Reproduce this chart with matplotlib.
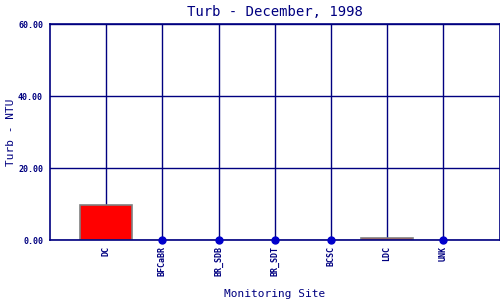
import numpy as np
import matplotlib
matplotlib.use('Agg')
import matplotlib.pyplot as plt

NAVY = '#000080'

sites = ['DC', 'BFCaBR', 'BR_SDB', 'BR_SDT', 'BCSC', 'LDC', 'UNK']
turb = [9.6, 0.0, 0.0, 0.0, 0.0, 0.5, 0.0]
has_bar = [True, False, False, False, False, True, False]
yticks = [0, 20, 40, 60]

plt.rcParams['font.family'] = 'DejaVu Sans Mono'

fig = plt.figure(figsize=(5, 3), dpi=100)
ax = fig.add_axes([0.1, 0.2, 0.899, 0.72])

x = np.arange(1, len(sites) + 1)

# gridlines behind the bars
for v in yticks:
    ax.axhline(v, color=NAVY, lw=1.0, zorder=1)
for xi in x:
    ax.axvline(xi, color=NAVY, lw=1.0, zorder=1)

for xi, val, b in zip(x, turb, has_bar):
    if b:
        ax.bar(xi, val, width=0.93, color='red', edgecolor='gray', lw=1.2, zorder=2)
    else:
        ax.plot(xi, val, 'o', color='#0000cc', ms=5, zorder=3, clip_on=False)

ax.set_xlim(0, len(sites) + 1)
ax.set_ylim(0, 60)
ax.set_xticks(x)
ax.set_xticklabels(sites, rotation=90, fontsize=6, fontweight='bold', color=NAVY)
ax.set_yticks(yticks)
ax.set_yticklabels(['%.2f' % v for v in yticks], fontsize=6, fontweight='bold', color=NAVY)
ax.tick_params(axis='x', length=0, pad=4)
ax.tick_params(axis='y', length=0, pad=5)
for s in ax.spines.values():
    s.set_color(NAVY)
    s.set_linewidth(1.2)

ax.set_title('Turb - December, 1998', fontsize=10, color=NAVY, pad=6)
ax.set_xlabel('Monitoring Site', fontsize=8, color=NAVY, labelpad=10)
fig.text(0.022, 0.56, 'Turb - NTU', rotation=90, ha='center', va='center',
         fontsize=8, color=NAVY)

fig.savefig('out.png', dpi=100)
